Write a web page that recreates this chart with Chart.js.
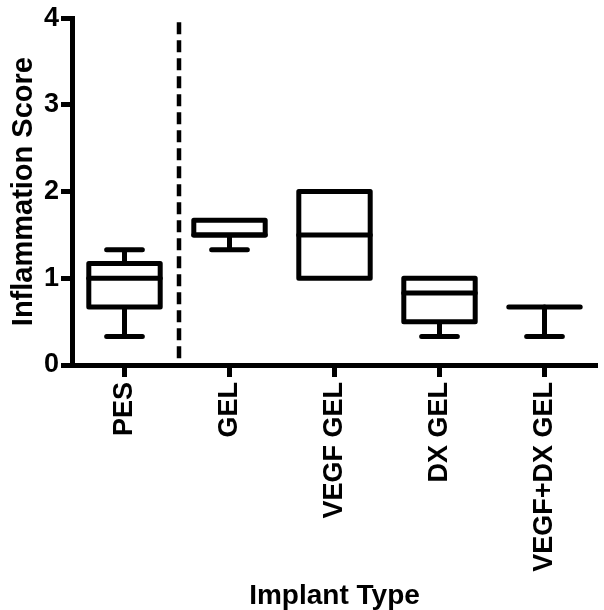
<!DOCTYPE html>
<html>
<head>
<meta charset="utf-8">
<script src="https://cdn.jsdelivr.net/npm/chart.js@4"></script>
<style>
  body { margin: 0; background: #fff; }
  canvas { display: block; }
</style>
</head>
<body>
<canvas id="boxChart" width="604" height="610"></canvas>
<script>
// Box plot values
const categories = ['PES', 'GEL', 'VEGF GEL', 'DX GEL', 'VEGF+DX GEL'];
const minValues = [0.33, 1.33, 1.0, 0.33, 0.33];
const q1Values = [0.67, 1.5, 1.0, 0.5, 0.67];
const medianValues = [1.0, 1.5, 1.5, 0.83, 0.67];
const q3Values = [1.17, 1.67, 2.0, 1.0, 0.67];
const maxValues = [1.33, 1.67, 2.0, 1.0, 0.67];
const yTickValues = [0, 1, 2, 3, 4];
const separatorAfter = 0; // dashed line after PES

const fontFamily = '"Liberation Sans", Arial, sans-serif';

// draws boxes, medians, whiskers and the dashed separator with the chart scales
const boxPlotPlugin = {
    id: 'boxPlot',
    afterDatasetsDraw(chart) {
        const ctx = chart.ctx;
        const x = chart.scales.x;
        const y = chart.scales.y;
        const catWidth = x.getPixelForValue(1) - x.getPixelForValue(0);
        const boxHalf = catWidth * 0.34;
        const capHalf = catWidth * 0.17;

        ctx.save();
        ctx.strokeStyle = '#000';
        ctx.lineWidth = 5;
        ctx.lineJoin = 'round';
        ctx.lineCap = 'round';

        categories.forEach((c, i) => {
            const cx = x.getPixelForValue(i);
            const yMin = y.getPixelForValue(minValues[i]);
            const yQ1 = y.getPixelForValue(q1Values[i]);
            const yMed = y.getPixelForValue(medianValues[i]);
            const yQ3 = y.getPixelForValue(q3Values[i]);
            const yMax = y.getPixelForValue(maxValues[i]);

            // whiskers
            ctx.beginPath();
            if (minValues[i] < q1Values[i]) {
                ctx.moveTo(cx, yQ1); ctx.lineTo(cx, yMin);
                ctx.moveTo(cx - capHalf, yMin); ctx.lineTo(cx + capHalf, yMin);
            }
            if (maxValues[i] > q3Values[i]) {
                ctx.moveTo(cx, yQ3); ctx.lineTo(cx, yMax);
                ctx.moveTo(cx - capHalf, yMax); ctx.lineTo(cx + capHalf, yMax);
            }
            ctx.stroke();

            // box
            if (q3Values[i] > q1Values[i]) {
                ctx.fillStyle = '#fff';
                ctx.fillRect(cx - boxHalf, yQ3, boxHalf * 2, yQ1 - yQ3);
                ctx.strokeRect(cx - boxHalf, yQ3, boxHalf * 2, yQ1 - yQ3);
            }

            // median
            ctx.beginPath();
            ctx.moveTo(cx - boxHalf, yMed);
            ctx.lineTo(cx + boxHalf, yMed);
            ctx.stroke();
        });

        // dashed separator
        const sx = x.getPixelForValue(separatorAfter + 0.5) + 2;
        ctx.lineCap = 'butt';
        ctx.lineWidth = 4.5;
        ctx.setLineDash([12, 6]);
        ctx.beginPath();
        ctx.moveTo(sx, chart.chartArea.top + 4);
        ctx.lineTo(sx, chart.chartArea.bottom);
        ctx.stroke();
        ctx.restore();
    }
};

const ctx = document.getElementById('boxChart').getContext('2d');
new Chart(ctx, {
    type: 'bar',
    data: {
        labels: categories,
        datasets: [{
            label: 'Inflammation Score',
            data: categories.map((c, i) => [q1Values[i], q3Values[i]]),
            backgroundColor: 'rgba(0,0,0,0)',
            borderWidth: 0,
        }],
    },
    options: {
        responsive: false,
        animation: false,
        layout: { padding: { top: 17, right: 7, left: 0, bottom: 0 } },
        plugins: {
            legend: { display: false },
            tooltip: { enabled: false },
        },
        scales: {
            x: {
                offset: true,
                afterFit: (scale) => { scale.height = 245; },
                grid: {
                    display: true,
                    drawOnChartArea: false,
                    drawTicks: true,
                    tickLength: 12,
                    tickWidth: 5,
                    tickColor: '#000',
                    offset: false,
                },
                border: { display: true, color: '#000', width: 5 },
                ticks: {
                    color: '#000',
                    minRotation: 90,
                    maxRotation: 90,
                    padding: 5,
                    font: { family: fontFamily, size: 27, weight: 'bold' },
                },
                title: {
                    display: true,
                    text: 'Implant Type',
                    color: '#000',
                    padding: { top: 0, bottom: 0 },
                    font: { family: fontFamily, size: 28, weight: 'bold', lineHeight: 1 },
                },
            },
            y: {
                min: 0,
                max: 4,
                afterFit: (scale) => { scale.width = 72; },
                afterBuildTicks: (scale) => { scale.ticks = yTickValues.map(v => ({ value: v })); },
                grid: {
                    display: true,
                    drawOnChartArea: false,
                    drawTicks: true,
                    tickLength: 11,
                    tickWidth: 5,
                    tickColor: '#000',
                },
                border: { display: true, color: '#000', width: 5 },
                ticks: {
                    color: '#000',
                    padding: 2,
                    font: { family: fontFamily, size: 27, weight: 'bold' },
                },
                title: {
                    display: true,
                    text: 'Inflammation Score',
                    color: '#000',
                    padding: { top: 9, bottom: 0 },
                    font: { family: fontFamily, size: 29, weight: 'bold', lineHeight: 1 },
                },
            },
        },
    },
    plugins: [boxPlotPlugin],
});
</script>
</body>
</html>
